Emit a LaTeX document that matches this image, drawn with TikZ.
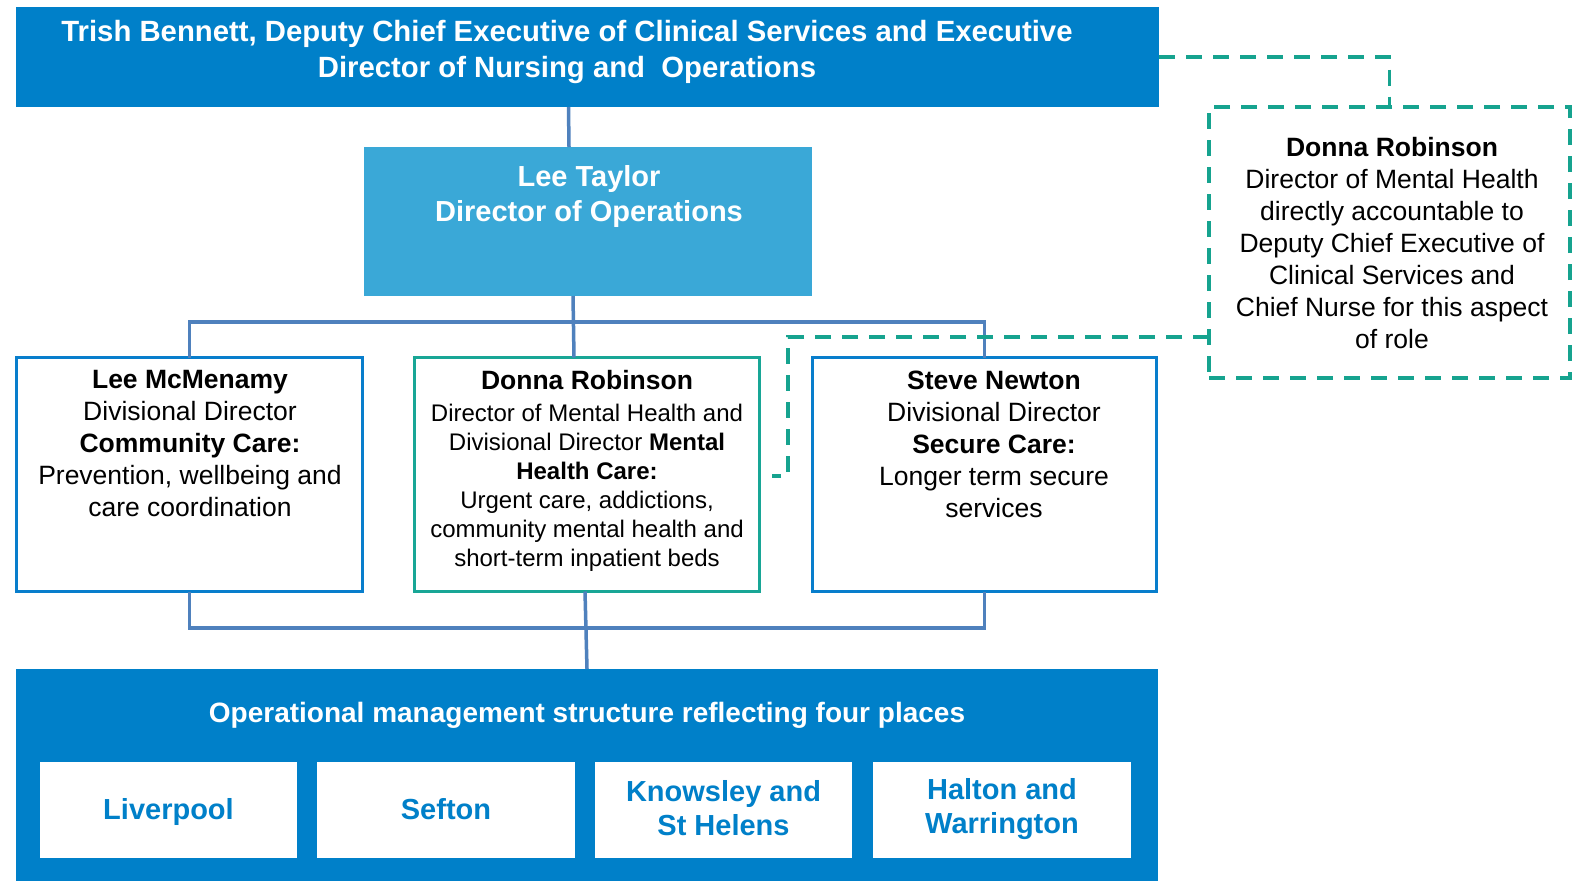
\documentclass[tikz,border=0pt]{standalone}
\usepackage{fontspec}
\setmainfont{Liberation Sans}
\definecolor{topblue}{RGB}{0,128,201}
\definecolor{ltblue}{RGB}{58,168,215}
\definecolor{edgeblue}{RGB}{8,126,204}
\definecolor{teal}{RGB}{24,166,150}
\definecolor{dashteal}{RGB}{22,163,143}
\definecolor{conncol}{RGB}{79,129,189}
\begin{document}
\begin{tikzpicture}[x=1pt,y=-1pt,
  every node/.style={inner sep=0pt,outer sep=0pt},
  solidbox/.style={rectangle,draw=none},
  framebox/.style={rectangle,draw=edgeblue,line width=3pt,fill=white},
  tealbox/.style={rectangle,draw=teal,line width=3pt,fill=white},
  dashbox/.style={rectangle,draw=dashteal,line width=3.5pt,dash pattern=on 16pt off 11pt},
  conn/.style={draw=conncol,line width=3.5pt},
  dashline/.style={draw=dashteal,line width=3.5pt,dash pattern=on 16pt off 11pt},
  whitehead/.style={text=white,font={\fontsize{29.3}{36}\selectfont\bfseries},align=center},
  body/.style={text=black,font={\fontsize{26.5}{32}\selectfont},align=center},
  placetext/.style={text=topblue,font={\fontsize{29}{34}\selectfont\bfseries},align=center}
]
\useasboundingbox (0,0) rectangle (1576,881);
\fill[white] (0,0) rectangle (1576,881);

% boxes
\node[solidbox,fill=topblue,minimum width=1143pt,minimum height=100pt] (top) at (587.5,57) {};
\node[solidbox,fill=ltblue,minimum width=448pt,minimum height=149pt] (lt) at (588,221.5) {};
\node[framebox,minimum width=346pt,minimum height=234pt] (mc) at (189.5,474.5) {};
\node[tealbox,minimum width=345pt,minimum height=234pt] (dn) at (587,474.5) {};
\node[framebox,minimum width=344pt,minimum height=234pt] (sn) at (984.5,474.5) {};
\node[dashbox,minimum width=361pt,minimum height=271pt] (rb) at (1389.5,242.5) {};
\node[solidbox,fill=topblue,minimum width=1142pt,minimum height=212pt] (bot) at (587,775) {};
\node[solidbox,fill=white,minimum width=257pt,minimum height=96pt] (liv) at (168.5,810) {};
\node[solidbox,fill=white,minimum width=258pt,minimum height=96pt] (sef) at (446,810) {};
\node[solidbox,fill=white,minimum width=257pt,minimum height=96pt] (kno) at (723.5,810) {};
\node[solidbox,fill=white,minimum width=258pt,minimum height=96pt] (hal) at (1002,810) {};

% texts
\node[whitehead] (toptext) at (567,52) {Trish Bennett, Deputy Chief Executive of Clinical Services and Executive\\Director of Nursing and\ \ Operations};
\node[whitehead,font={\fontsize{29}{35}\selectfont\bfseries}] (lttext) at (589,196.5) {Lee Taylor\\Director of Operations};
\node[body] (mctext) at (190,444) {\textbf{Lee McMenamy}\\Divisional Director\\\textbf{Community Care:}\\Prevention, wellbeing and\\care coordination};
\node[body,anchor=base,font={\fontsize{26.5}{32}\selectfont\bfseries}] (dnname) at (587,389) {Donna Robinson};
\node[body,font={\fontsize{24}{28.9}\selectfont}] (dntext) at (587,487.6) {Director of Mental Health and\\Divisional Director \textbf{Mental}\\\textbf{Health Care:}\\Urgent care, addictions,\\community mental health and\\short-term inpatient beds};
\node[body] (sntext) at (994,444.5) {\textbf{Steve Newton}\\Divisional Director\\\textbf{Secure Care:}\\Longer term secure\\services};
\node[body] (rbtext) at (1392,243.5) {\textbf{Donna Robinson}\\Director of Mental Health\\directly accountable to\\Deputy Chief Executive of\\Clinical Services and\\Chief Nurse for this aspect\\of role};
\node[whitehead,anchor=base,font={\fontsize{28}{34}\selectfont\bfseries}] (bottext) at (587,722) {Operational management structure reflecting four places};
\node[placetext,anchor=base] at (168.5,819.5) {Liverpool};
\node[placetext,anchor=base] at (446,819.5) {Sefton};
\node[placetext] at (723.5,808.6) {Knowsley and\\St Helens};
\node[placetext] at (1002,808.6) {Halton and\\Warrington};

% connectors
\draw[conn] ([xshift=-19pt]top.south) -- ([xshift=-19pt]lt.north);
\draw[conn] (mc.north) |- ([yshift=35.5pt]sn.north) -- (sn.north);
\draw[conn] ([xshift=-15pt]lt.south) -- ([xshift=-13pt]dn.north);
\draw[conn] (mc.south) |- ([yshift=-36.5pt]sn.south) -- (sn.south);
\draw[conn] ([xshift=-2pt]dn.south) -- (bot.north);

% dashed links
\coordinate (dj) at (788,476);
\coordinate (dend) at (772,476);
\draw[dashline] (top.east) -| (rb.north);
\draw[dashline] ([yshift=-94.5pt]rb.west) -| (dj) -- (dend);
\end{tikzpicture}
\end{document}
